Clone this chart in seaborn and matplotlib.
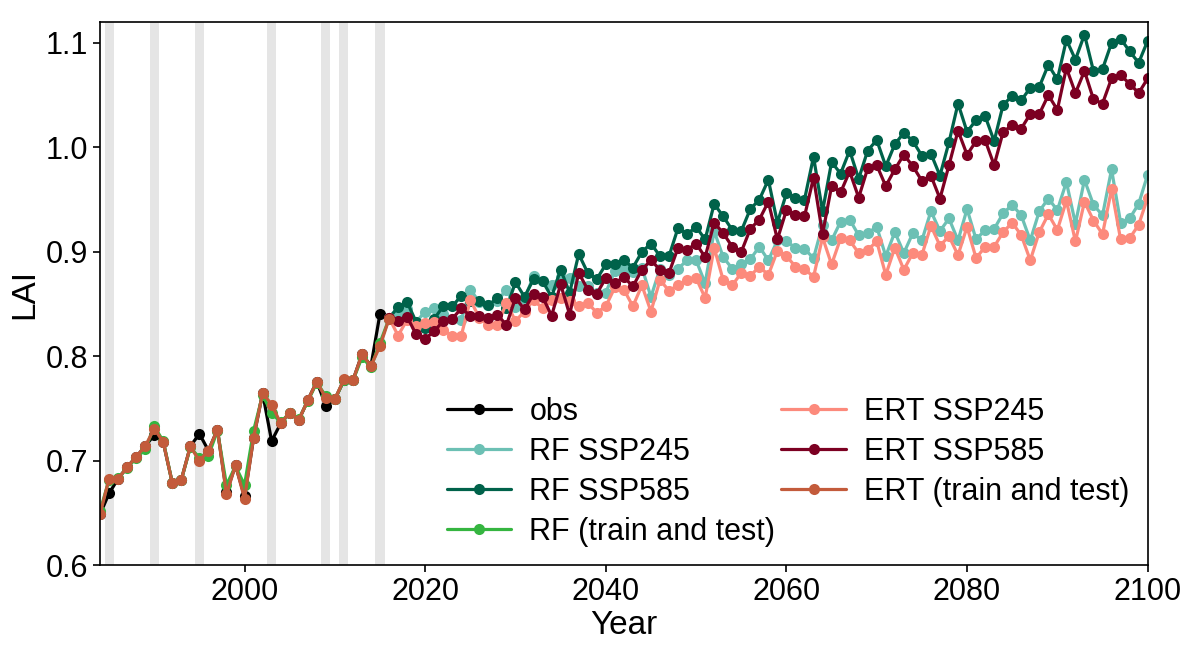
import seaborn as sns
import matplotlib.pyplot as plt
import numpy as np

# -----------------------------------------------------------
# Data
# -----------------------------------------------------------
hist_years = list(range(1984, 2017))      # train/test period
obs_years = list(range(1984, 2016))
proj_years = list(range(2016, 2101))
test_years = [1985, 1990, 1995, 2003, 2009, 2011, 2015]

ert_hist = [0.649, 0.683, 0.683, 0.694, 0.704, 0.714, 0.731, 0.718, 0.679, 0.682,
            0.714, 0.700, 0.710, 0.730, 0.668, 0.696, 0.664, 0.722, 0.765, 0.754,
            0.736, 0.746, 0.739, 0.758, 0.776, 0.760, 0.759, 0.778, 0.777, 0.802,
            0.791, 0.810, 0.836]
rf_hist = [0.652, 0.682, 0.684, 0.693, 0.703, 0.711, 0.733, 0.719, 0.679, 0.682,
           0.713, 0.703, 0.705, 0.729, 0.677, 0.695, 0.677, 0.729, 0.763, 0.746,
           0.737, 0.746, 0.740, 0.757, 0.775, 0.762, 0.759, 0.777, 0.777, 0.799,
           0.790, 0.813, 0.836]
obs = [0.649, 0.669, 0.683, 0.694, 0.704, 0.714, 0.725, 0.718, 0.679, 0.682,
       0.714, 0.726, 0.710, 0.730, 0.670, 0.696, 0.666, 0.722, 0.765, 0.719,
       0.736, 0.746, 0.739, 0.758, 0.776, 0.753, 0.759, 0.777, 0.777, 0.802,
       0.791, 0.841]

rf_ssp245 = [0.837, 0.842, 0.845, 0.833, 0.843, 0.846, 0.841, 0.836, 0.835, 0.864,
             0.852, 0.849, 0.853, 0.864, 0.847, 0.855, 0.877, 0.872, 0.868, 0.876,
             0.875, 0.867, 0.867, 0.861, 0.861, 0.882, 0.884, 0.881, 0.885, 0.857,
             0.884, 0.878, 0.884, 0.892, 0.892, 0.870, 0.920, 0.895, 0.884, 0.888,
             0.893, 0.905, 0.892, 0.911, 0.910, 0.904, 0.903, 0.894, 0.926, 0.911,
             0.929, 0.931, 0.916, 0.918, 0.924, 0.896, 0.919, 0.899, 0.918, 0.911,
             0.939, 0.920, 0.932, 0.911, 0.941, 0.912, 0.921, 0.922, 0.937, 0.945,
             0.935, 0.911, 0.939, 0.951, 0.940, 0.967, 0.927, 0.969, 0.945, 0.935,
             0.979, 0.928, 0.932, 0.946, 0.974]
rf_ssp585 = [0.837, 0.847, 0.852, 0.833, 0.827, 0.836, 0.848, 0.848, 0.858, 0.853,
             0.853, 0.849, 0.856, 0.846, 0.871, 0.857, 0.874, 0.872, 0.857, 0.883,
             0.861, 0.898, 0.880, 0.874, 0.888, 0.888, 0.892, 0.885, 0.900, 0.908,
             0.896, 0.896, 0.923, 0.917, 0.924, 0.912, 0.946, 0.934, 0.921, 0.920,
             0.941, 0.950, 0.969, 0.928, 0.956, 0.952, 0.950, 0.991, 0.939, 0.986,
             0.975, 0.997, 0.970, 0.997, 1.007, 0.982, 1.003, 1.014, 1.006, 0.992,
             0.994, 0.973, 1.005, 1.042, 1.015, 1.026, 1.030, 1.006, 1.041, 1.049,
             1.045, 1.057, 1.058, 1.079, 1.065, 1.103, 1.084, 1.108, 1.073, 1.075,
             1.100, 1.104, 1.092, 1.081, 1.102]
ert_ssp245 = [0.837, 0.820, 0.835, 0.829, 0.832, 0.833, 0.825, 0.820, 0.820, 0.854,
              0.837, 0.830, 0.830, 0.851, 0.834, 0.843, 0.854, 0.846, 0.854, 0.856,
              0.853, 0.848, 0.851, 0.842, 0.848, 0.866, 0.864, 0.848, 0.868, 0.843,
              0.873, 0.863, 0.868, 0.873, 0.875, 0.856, 0.904, 0.873, 0.868, 0.880,
              0.877, 0.886, 0.878, 0.901, 0.896, 0.886, 0.884, 0.876, 0.914, 0.888,
              0.913, 0.911, 0.899, 0.902, 0.910, 0.878, 0.904, 0.883, 0.899, 0.897,
              0.925, 0.906, 0.915, 0.897, 0.924, 0.894, 0.905, 0.905, 0.919, 0.928,
              0.916, 0.892, 0.919, 0.936, 0.921, 0.949, 0.910, 0.948, 0.930, 0.917,
              0.960, 0.912, 0.913, 0.926, 0.952]
ert_ssp585 = [0.837, 0.834, 0.838, 0.821, 0.817, 0.824, 0.834, 0.836, 0.846, 0.839,
              0.839, 0.837, 0.840, 0.830, 0.856, 0.845, 0.860, 0.857, 0.839, 0.869,
              0.840, 0.880, 0.864, 0.860, 0.875, 0.870, 0.876, 0.867, 0.883, 0.892,
              0.883, 0.880, 0.904, 0.902, 0.908, 0.895, 0.928, 0.918, 0.905, 0.900,
              0.922, 0.931, 0.948, 0.912, 0.940, 0.935, 0.934, 0.971, 0.917, 0.963,
              0.957, 0.977, 0.952, 0.980, 0.983, 0.963, 0.979, 0.993, 0.982, 0.968,
              0.973, 0.951, 0.983, 1.016, 0.993, 1.006, 1.007, 0.983, 1.015, 1.021,
              1.018, 1.032, 1.032, 1.050, 1.036, 1.076, 1.052, 1.073, 1.046, 1.042,
              1.066, 1.069, 1.061, 1.052, 1.066]

# -----------------------------------------------------------
# Styling
# -----------------------------------------------------------
sns.set_style("ticks")
plt.rcParams["font.family"] = ["Liberation Sans", "DejaVu Sans"]
for key in ["text.color", "axes.labelcolor", "xtick.color", "ytick.color",
            "axes.edgecolor"]:
    plt.rcParams[key] = "black"

fig, ax = plt.subplots(figsize=(11.98, 6.47), dpi=100)
fig.subplots_adjust(left=0.0835, right=0.958, top=0.966, bottom=0.126)

for yr in test_years:
    ax.axvspan(yr - 0.5, yr + 0.5, color="#e5e5e5", lw=0, zorder=0)

series = [
    (obs_years, obs, "obs", "black"),
    (proj_years, rf_ssp245, "RF SSP245", "#6cc0b4"),
    (proj_years, rf_ssp585, "RF SSP585", "#00624a"),
    (hist_years, rf_hist, "RF (train and test)", "#35b540"),
    (proj_years, ert_ssp245, "ERT SSP245", "#fc8a7c"),
    (proj_years, ert_ssp585, "ERT SSP585", "#7c0022"),
    (hist_years, ert_hist, "ERT (train and test)", "#c35b3b"),
]
for xs, ys, label, color in series:
    sns.lineplot(x=xs, y=ys, ax=ax, label=label, color=color, marker="o",
                 markersize=8, markeredgewidth=0, linewidth=2.3)

ax.set_xlim(1984, 2100)
ax.set_ylim(0.6, 1.12)
ax.set_xticks([2000, 2020, 2040, 2060, 2080, 2100])
ax.set_yticks([0.6, 0.7, 0.8, 0.9, 1.0, 1.1])
ax.tick_params(labelsize=22, length=5, width=1.2)
ax.set_xlabel("Year", fontsize=24, labelpad=2)
ax.set_ylabel("LAI", fontsize=24)
for sp in ax.spines.values():
    sp.set_linewidth(1.2)

ax.legend(loc="lower right", ncol=2, frameon=False, fontsize=22,
          handlelength=2.1, handletextpad=0.6, columnspacing=0.2,
          labelspacing=0.33, borderaxespad=0.2)

plt.savefig("out.png", dpi=100)
